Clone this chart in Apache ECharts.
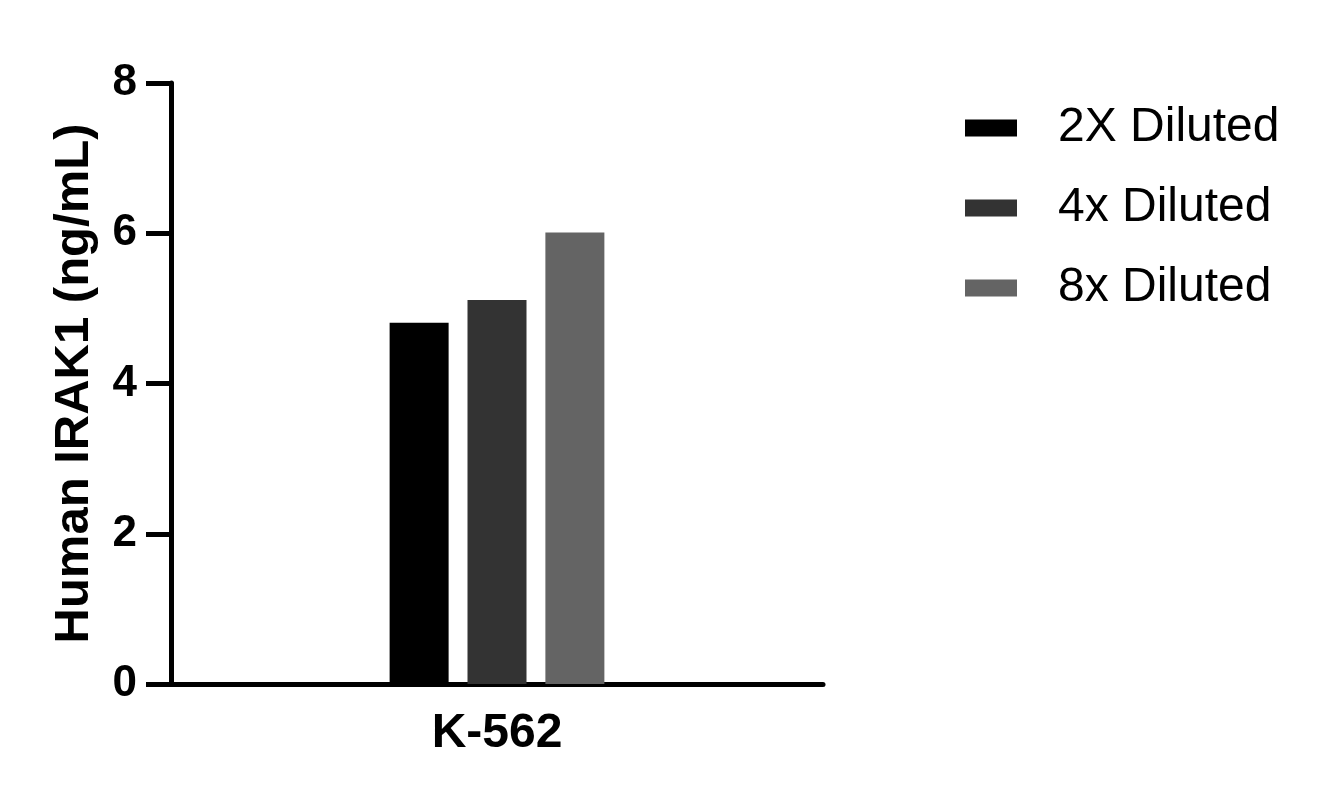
<!DOCTYPE html>
<html>
<head>
<meta charset="utf-8">
<script src="https://cdn.jsdelivr.net/npm/echarts@6/dist/echarts.min.js"></script>
<style>
html,body{margin:0;padding:0;background:#fff;}
#c{width:1326px;height:804px;}
</style>
</head>
<body>
<div id="c"></div>
<script>
const categories = ['K-562'];
const seriesNames = ['2X Diluted', '4x Diluted', '8x Diluted'];
const values2x = [4.81];
const values4x = [5.11];
const values8x = [6.01];
const yTicks = { min: 0, max: 8, interval: 2 };

const colors = ['#000000', '#333333', '#646464'];
const font = '"Liberation Sans", Arial, sans-serif';
const seriesData = [values2x, values4x, values8x];

const chart = echarts.init(document.getElementById('c'), null, { renderer: 'canvas' });
chart.setOption({
  backgroundColor: '#ffffff',
  animation: false,
  grid: { left: 171, right: 503, top: 83, bottom: 120, containLabel: false },
  legend: {
    orient: 'vertical',
    left: 960,
    top: 99,
    itemWidth: 52,
    itemHeight: 17,
    itemGap: 32,
    icon: 'rect',
    textStyle: { fontFamily: font, fontSize: 48, color: '#000', padding: [0, 0, 0, 36] },
    data: seriesNames
  },
  xAxis: {
    type: 'category',
    data: categories,
    axisLine: { show: true, lineStyle: { color: '#000', width: 5 } },
    axisTick: { show: false },
    axisLabel: { fontFamily: font, fontSize: 48, fontWeight: 'bold', color: '#000', margin: 26 }
  },
  yAxis: {
    type: 'value',
    min: yTicks.min,
    max: yTicks.max,
    interval: yTicks.interval,
    name: 'Human IRAK1 (ng/mL)',
    nameLocation: 'middle',
    nameGap: 72,
    nameTextStyle: { fontFamily: font, fontSize: 49, fontWeight: 'bold', color: '#000' },
    axisLine: { show: true, lineStyle: { color: '#000', width: 5 } },
    axisTick: { show: true, length: 25, lineStyle: { color: '#000', width: 5 } },
    axisLabel: { fontFamily: font, fontSize: 44, fontWeight: 'bold', color: '#000', margin: 34 },
    splitLine: { show: false }
  },
  series: seriesNames.map((n, i) => ({
    name: n,
    type: 'bar',
    data: seriesData[i],
    barWidth: 59,
    barGap: '32%',
    itemStyle: { color: colors[i] }
  }))
});
</script>
</body>
</html>
